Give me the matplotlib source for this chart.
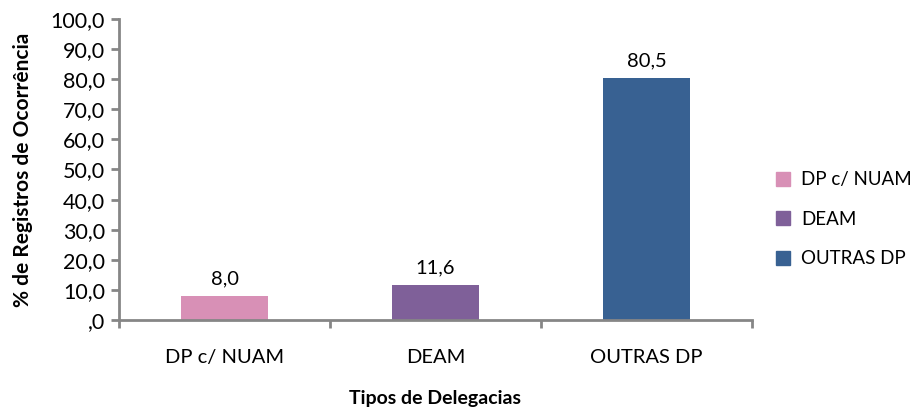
import matplotlib.pyplot as plt
import numpy as np
from matplotlib.patches import Patch

categorias = ["DP c/ NUAM", "DEAM", "OUTRAS DP"]
valores = [8.0, 11.6, 80.5]
cores = ["#D890B6", "#7F6099", "#386192"]
yticks = [0, 10, 20, 30, 40, 50, 60, 70, 80, 90, 100]

plt.rcParams['font.family'] = ['Lato', 'DejaVu Sans']

def fmt(v):
    s = f"{v:.1f}".replace(".", ",")
    return s[1:] if s.startswith("0,") else s

fig = plt.figure(figsize=(9.17, 4.12), dpi=100)
ax = fig.add_axes([0.1298, 0.2233, 0.6902, 0.7306])

x = np.arange(len(categorias))
ax.bar(x, valores, width=0.41, color=cores)
for xi, v in zip(x, valores):
    ax.text(xi, v + 2.8, fmt(v), ha="center", va="bottom", fontsize=14.5)

ax.set_xlim(-0.5, 2.5)
ax.set_ylim(0, 100)
ax.set_yticks(yticks)
ax.set_yticklabels([fmt(t) for t in yticks], fontsize=15.5)
ax.set_xticks(x)
ax.set_xticklabels(categorias, fontsize=14.5)
ax.set_xticks([-0.5, 0.5, 1.5, 2.5], minor=True)
ax.tick_params(axis="x", which="major", length=0, pad=21)
ax.tick_params(axis="x", which="minor", length=6, width=2, color="#868686")
ax.tick_params(axis="y", length=6, width=2, color="#868686", pad=4)

for s in ["top", "right"]:
    ax.spines[s].set_visible(False)
for s in ["left", "bottom"]:
    ax.spines[s].set_color("#868686")
    ax.spines[s].set_linewidth(2)

ax.set_ylabel("% de Registros de Ocorrência", fontsize=15, fontweight="bold", labelpad=13)
ax.set_xlabel("Tipos de Delegacias", fontsize=14, fontweight="bold", labelpad=17)

handles = [Patch(color=c) for c in cores]
fig.legend(handles, categorias, loc="center left", bbox_to_anchor=(0.846, 0.468),
           frameon=False, fontsize=13.5, handlelength=0.75, handleheight=0.75,
           labelspacing=1.2, handletextpad=0.6, borderpad=0, borderaxespad=0)

fig.savefig("out.png", dpi=100)
